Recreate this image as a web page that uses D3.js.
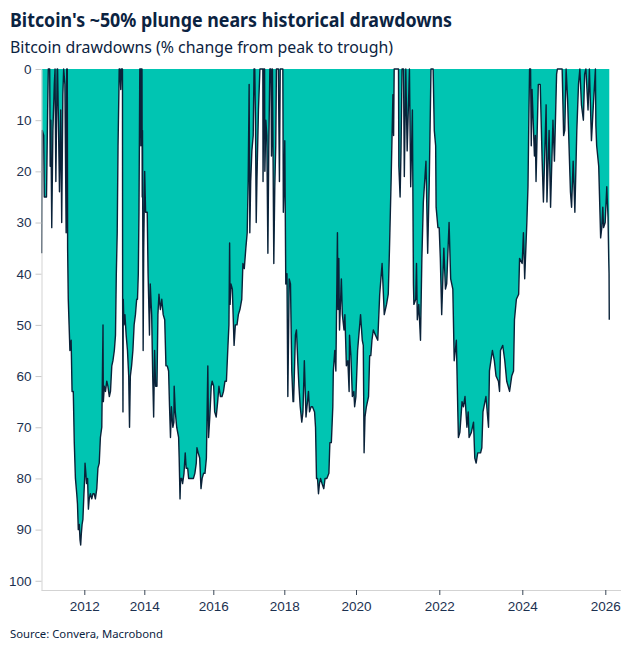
<!DOCTYPE html>
<html>
<head>
<meta charset="utf-8">
<script src="https://cdn.jsdelivr.net/npm/d3@7"></script>
<style>
  body { margin: 0; background: #fff; }
  svg { font-family: "Segoe UI", "Noto Sans", sans-serif; }
  .title { font-size: 20px; font-weight: 700; fill: #0b2341; }
  .subtitle { font-size: 16px; fill: #0b2341; }
  .source { font-size: 11.5px; fill: #0b2341; }
  .tick text { font-size: 13.5px; fill: #1c3150; }
</style>
</head>
<body>
<svg id="chart"></svg>
<script>
// drawdown from peak, in %
var dates = [
  "2010-08-01","2010-08-08","2010-08-25","2010-09-01","2010-09-28","2010-10-12","2010-10-20","2010-10-28",
  "2010-11-06","2010-11-12","2010-11-20","2010-12-01","2010-12-15","2011-01-01","2011-01-10","2011-01-20",
  "2011-02-05","2011-02-10","2011-02-20","2011-03-05","2011-03-20","2011-04-01","2011-04-15","2011-04-25",
  "2011-05-10","2011-05-25","2011-06-01","2011-06-08","2011-06-12","2011-06-20","2011-06-30","2011-07-10",
  "2011-07-25","2011-08-05","2011-08-20","2011-09-01","2011-09-15","2011-10-01","2011-10-10","2011-10-20",
  "2011-11-01","2011-11-10","2011-11-18","2011-11-25","2011-12-05","2011-12-15","2011-12-25","2012-01-05",
  "2012-01-10","2012-01-20","2012-01-28","2012-02-10","2012-02-20","2012-03-01","2012-03-15","2012-04-01",
  "2012-04-15","2012-05-01","2012-05-15","2012-06-01","2012-06-15","2012-07-01","2012-07-15","2012-08-01",
  "2012-08-16","2012-08-20","2012-09-01","2012-09-15","2012-10-01","2012-10-15","2012-11-01","2012-11-15",
  "2012-12-01","2012-12-15","2013-01-01","2013-01-15","2013-01-25","2013-02-05","2013-02-15","2013-02-25",
  "2013-03-01","2013-03-10","2013-03-20","2013-03-28","2013-04-05","2013-04-10","2013-04-12","2013-04-16",
  "2013-04-20","2013-04-28","2013-05-10","2013-05-25","2013-06-10","2013-06-25","2013-07-05","2013-07-15",
  "2013-07-30","2013-08-15","2013-08-30","2013-09-15","2013-09-30","2013-10-10","2013-10-20","2013-10-28",
  "2013-11-03","2013-11-07","2013-11-18","2013-11-20","2013-11-25","2013-12-04","2013-12-07","2013-12-10",
  "2013-12-18","2013-12-25","2014-01-05","2014-01-15","2014-02-01","2014-02-10","2014-02-25","2014-03-05",
  "2014-03-20","2014-03-31","2014-04-10","2014-04-20","2014-05-01","2014-05-15","2014-05-25","2014-06-05",
  "2014-06-20","2014-07-05","2014-07-20","2014-08-05","2014-08-18","2014-09-01","2014-09-15","2014-09-25",
  "2014-10-05","2014-10-15","2014-10-30","2014-11-10","2014-11-13","2014-11-25","2014-12-10","2014-12-30",
  "2015-01-05","2015-01-14","2015-01-20","2015-01-31","2015-02-10","2015-02-25","2015-03-10","2015-03-20",
  "2015-04-05","2015-04-15","2015-05-01","2015-05-20","2015-06-05","2015-06-20","2015-07-05","2015-07-12",
  "2015-07-25","2015-08-10","2015-08-24","2015-09-05","2015-09-20","2015-10-05","2015-10-20","2015-11-04",
  "2015-11-12","2015-11-25","2015-12-10","2015-12-20","2016-01-05","2016-01-15","2016-01-31","2016-02-15",
  "2016-02-28","2016-03-15","2016-03-31","2016-04-15","2016-04-30","2016-05-15","2016-05-31","2016-06-10",
  "2016-06-17","2016-06-22","2016-07-01","2016-07-15","2016-08-02","2016-08-15","2016-09-01","2016-09-15",
  "2016-10-01","2016-10-20","2016-11-01","2016-11-15","2016-12-01","2016-12-15","2016-12-25","2017-01-04",
  "2017-01-11","2017-01-20","2017-02-01","2017-02-15","2017-02-23","2017-03-03","2017-03-10","2017-03-18",
  "2017-03-25","2017-04-10","2017-04-25","2017-05-05","2017-05-20","2017-05-25","2017-05-27","2017-06-05",
  "2017-06-12","2017-06-15","2017-06-25","2017-07-05","2017-07-16","2017-07-25","2017-08-05","2017-08-17",
  "2017-08-22","2017-09-01","2017-09-15","2017-09-25","2017-10-05","2017-10-12","2017-10-20","2017-11-01",
  "2017-11-12","2017-11-20","2017-12-07","2017-12-17","2017-12-22","2017-12-28","2018-01-06","2018-01-16",
  "2018-01-28","2018-02-06","2018-02-20","2018-03-05","2018-03-18","2018-03-31","2018-04-06","2018-04-24",
  "2018-05-05","2018-05-20","2018-05-30","2018-06-12","2018-06-28","2018-07-10","2018-07-24","2018-08-10",
  "2018-08-20","2018-09-04","2018-09-15","2018-10-01","2018-10-15","2018-11-05","2018-11-15","2018-11-25",
  "2018-12-05","2018-12-15","2018-12-25","2019-01-05","2019-01-20","2019-02-07","2019-02-20","2019-03-10",
  "2019-03-31","2019-04-10","2019-04-25","2019-05-10","2019-05-15","2019-05-30","2019-06-10","2019-06-26",
  "2019-07-02","2019-07-10","2019-07-17","2019-08-05","2019-08-15","2019-09-01","2019-09-10","2019-09-25",
  "2019-10-10","2019-10-23","2019-10-27","2019-11-10","2019-11-25","2019-12-10","2019-12-18","2019-12-31",
  "2020-01-15","2020-02-10","2020-02-25","2020-03-05","2020-03-12","2020-03-20","2020-04-01","2020-04-20",
  "2020-04-30","2020-05-10","2020-05-20","2020-06-01","2020-06-20","2020-07-10","2020-07-27","2020-08-17",
  "2020-09-05","2020-09-25","2020-10-10","2020-10-21","2020-11-05","2020-11-20","2020-11-26","2020-12-01",
  "2020-12-16","2020-12-31","2021-01-08","2021-01-11","2021-01-22","2021-01-30","2021-02-08","2021-02-21",
  "2021-02-28","2021-03-13","2021-03-25","2021-04-14","2021-04-25","2021-05-10","2021-05-19","2021-05-23",
  "2021-06-08","2021-06-15","2021-06-22","2021-07-05","2021-07-20","2021-08-01","2021-08-14","2021-09-06",
  "2021-09-21","2021-10-05","2021-10-20","2021-11-08","2021-11-18","2021-11-30","2021-12-04","2021-12-20",
  "2021-12-31","2022-01-10","2022-01-22","2022-02-10","2022-02-24","2022-03-07","2022-03-28","2022-04-11",
  "2022-04-30","2022-05-12","2022-05-31","2022-06-13","2022-06-18","2022-07-01","2022-07-20","2022-08-01",
  "2022-08-15","2022-09-01","2022-09-12","2022-09-20","2022-10-10","2022-10-29","2022-11-09","2022-11-21",
  "2022-12-05","2022-12-30","2023-01-10","2023-01-20","2023-02-15","2023-03-10","2023-03-18","2023-04-13",
  "2023-04-30","2023-05-15","2023-06-05","2023-06-15","2023-06-23","2023-07-13","2023-07-31","2023-08-17",
  "2023-09-11","2023-09-30","2023-10-16","2023-10-24","2023-11-10","2023-11-30","2023-12-08","2023-12-31",
  "2024-01-11","2024-01-22","2024-02-10","2024-02-20","2024-02-28","2024-03-05","2024-03-14","2024-03-20",
  "2024-03-27","2024-04-17","2024-04-25","2024-05-01","2024-05-21","2024-06-07","2024-06-24","2024-07-05",
  "2024-07-29","2024-08-05","2024-08-24","2024-09-06","2024-09-27","2024-10-10","2024-10-29","2024-11-05",
  "2024-11-22","2024-12-17","2024-12-30","2025-01-09","2025-01-21","2025-02-03","2025-02-28","2025-03-10",
  "2025-03-24","2025-04-08","2025-04-25","2025-05-10","2025-05-22","2025-06-05","2025-06-22","2025-07-03",
  "2025-07-14","2025-08-02","2025-08-14","2025-09-01","2025-09-18","2025-10-06","2025-10-10","2025-10-17",
  "2025-11-04","2025-11-21","2025-12-01","2025-12-10","2025-12-17","2025-12-31","2026-01-14","2026-01-25",
  "2026-01-31","2026-02-03","2026-02-05"
];
var drawdown = [
  36,12,13,25,25,8,0,0,
  0,19,10,31,12,3,0,22,
  0,0,10,24,8,30,5,0,
  3,32,0,0,35,45,50,55,
  53,63,63,73,80,83,85,90,
  89,92,93,91,89,88,84,80,
  77,79,81,80,86,84,83,84,
  83,83,84,82,78,77,72,70,
  50,65,62,63,61,62,64,63,
  58,57,55,52,40,32,15,5,
  0,0,4,0,0,0,45,67,
  45,50,48,52,55,60,70,60,
  58,55,50,48,45,45,40,28,
  12,0,0,15,0,0,25,12,
  55,35,20,28,28,40,52,42,
  48,60,68,55,62,62,48,44,
  47,45,48,49,58,58,59,66,
  72,66,70,69,62,67,70,72,
  76,84,80,80,81,79,75,78,
  78,80,80,80,80,79,77,74,
  75,76,82,80,79,79,76,58,
  72,68,62,61,62,67,68,65,
  62,64,64,63,61,61,54,50,
  34,46,42,43,54,50,50,48,
  47,45,38,39,35,32,22,3,
  32,22,16,13,0,0,10,30,
  22,8,0,0,0,0,22,0,
  0,20,10,13,36,16,0,0,
  17,0,38,23,15,0,0,0,
  22,0,0,0,28,24,14,42,
  40,64,41,42,59,65,65,52,
  51,58,62,66,69,67,57,68,
  66,63,67,66,66,67,70,80,
  80,83,81,80,81,82,80,80,
  79,73,73,66,59,55,59,32,
  47,37,51,41,48,51,48,58,
  57,63,52,56,64,63,66,64,
  55,48,53,54,75,68,66,64,
  56,56,53,51,52,53,44,38,
  48,46,44,35,21,5,13,0,
  0,0,0,19,25,16,0,0,
  21,0,16,0,23,8,42,46,
  45,38,49,46,53,37,26,18,
  36,22,0,0,12,15,27,31,
  31,37,48,35,43,42,30,41,
  43,57,53,67,72,71,65,66,
  64,70,67,72,71,69,76,77,
  75,75,74,67,64,70,59,55,
  57,60,61,63,55,54,57,61,
  63,60,59,49,45,44,37,38,
  32,41,30,23,9,0,0,15,
  4,17,13,22,3,3,18,26,
  7,26,12,27,10,18,1,0,
  0,0,13,12,0,6,24,27,
  18,28,12,3,0,7,10,1,
  0,8,0,14,7,0,11,15,
  19,33,31,27,31,30,23,29,
  37,40,49
];
var yTicks = [0, 10, 20, 30, 40, 50, 60, 70, 80, 90, 100];
var xTickYears = [2012, 2014, 2016, 2018, 2020, 2022, 2024, 2026];

var width = 637, height = 652;
var parse = d3.timeParse("%Y-%m-%d");
var data = dates.map(function (d, i) { return { date: parse(d), v: drawdown[i] }; });

var svg = d3.select("#chart").attr("width", width).attr("height", height);

// the source axis is uneven between years, so the time scale is piecewise
var x = d3.scaleTime()
  .domain([2010, 2012, 2014, 2016, 2018, 2020, 2022, 2024, 2026, 2027].map(function (y) { return new Date(y, 0, 1); }))
  .range([24.3, 84.3, 144.3, 213.3, 284.3, 356, 439.3, 522.3, 605.3, 646.8]);

var y = d3.scaleLinear().domain([0, 101.8]).range([69, 590]);

var area = d3.area()
  .x(function (d) { return x(d.date); })
  .y0(y(0))
  .y1(function (d) { return y(d.v); });

var line = d3.line()
  .x(function (d) { return x(d.date); })
  .y(function (d) { return y(d.v); });

svg.append("path")
  .datum(data)
  .attr("d", area)
  .attr("fill", "#00c5b2");

svg.append("path")
  .datum(data)
  .attr("d", line)
  .attr("fill", "none")
  .attr("stroke", "#0a2239")
  .attr("stroke-width", 1.4)
  .attr("stroke-linejoin", "round");

// axes
var yAxis = svg.append("g")
  .attr("transform", "translate(41.5,0)")
  .call(d3.axisLeft(y).tickValues(yTicks).tickSize(6).tickPadding(4).tickSizeOuter(0));
yAxis.select(".domain").attr("stroke", "#d3d3d3");
yAxis.selectAll(".tick line").attr("stroke", "#c8c8c8");

var xAxis = svg.append("g")
  .attr("transform", "translate(0,590)")
  .call(d3.axisBottom(x)
    .tickValues(xTickYears.map(function (yr) { return new Date(yr, 0, 1); }))
    .tickFormat(d3.timeFormat("%Y"))
    .tickSize(5).tickPadding(6).tickSizeOuter(0));
xAxis.select(".domain").attr("d", "M41.5,0.5H621").attr("stroke", "#d3d3d3");
xAxis.selectAll(".tick line").attr("stroke", "#3a4656");

svg.append("text").attr("class", "title").attr("x", 10).attr("y", 27)
  .attr("textLength", 442).attr("lengthAdjust", "spacingAndGlyphs")
  .text("Bitcoin's ~50% plunge nears historical drawdowns");
svg.append("text").attr("class", "subtitle").attr("x", 10).attr("y", 53)
  .attr("textLength", 383).attr("lengthAdjust", "spacingAndGlyphs")
  .text("Bitcoin drawdowns (% change from peak to trough)");
svg.append("text").attr("class", "source").attr("x", 10).attr("y", 638)
  .attr("textLength", 153).attr("lengthAdjust", "spacingAndGlyphs")
  .text("Source: Convera, Macrobond");
</script>
</body>
</html>
